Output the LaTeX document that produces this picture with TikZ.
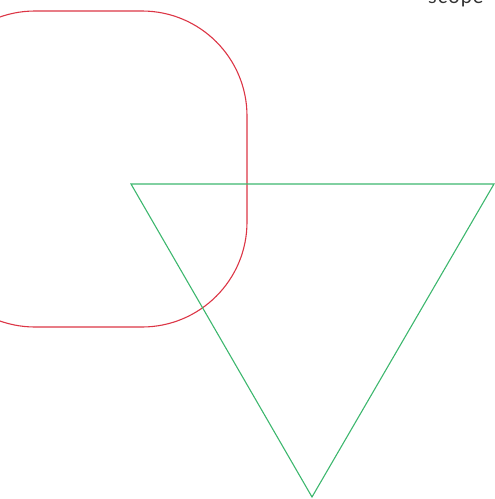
\documentclass[tikz,border=0pt]{standalone}
\usepackage{fontspec}
\setmainfont{Lato}
\definecolor{redline}{HTML}{DC3545}
\definecolor{greenline}{HTML}{3DB76E}
\definecolor{txt}{HTML}{333333}
\begin{document}
\begin{tikzpicture}[x=1pt,y=-1pt,
  shapeline/.style={line width=1.1pt}]
\useasboundingbox (0,0) rectangle (495,499);
\clip (0,0) rectangle (495,499);
\draw[shapeline,redline,rounded corners=105pt] (-70,11) rectangle (247,327);
\draw[shapeline,greenline] (131,184) -- (494,184) -- (312,497) -- cycle;
\node[anchor=base west,inner sep=0pt,text=txt,font=\fontsize{20}{24}\selectfont] (lbl) at (428,3) {s\kern1pt c\kern1pt o\kern1pt p\kern1pt e};
\end{tikzpicture}
\end{document}
